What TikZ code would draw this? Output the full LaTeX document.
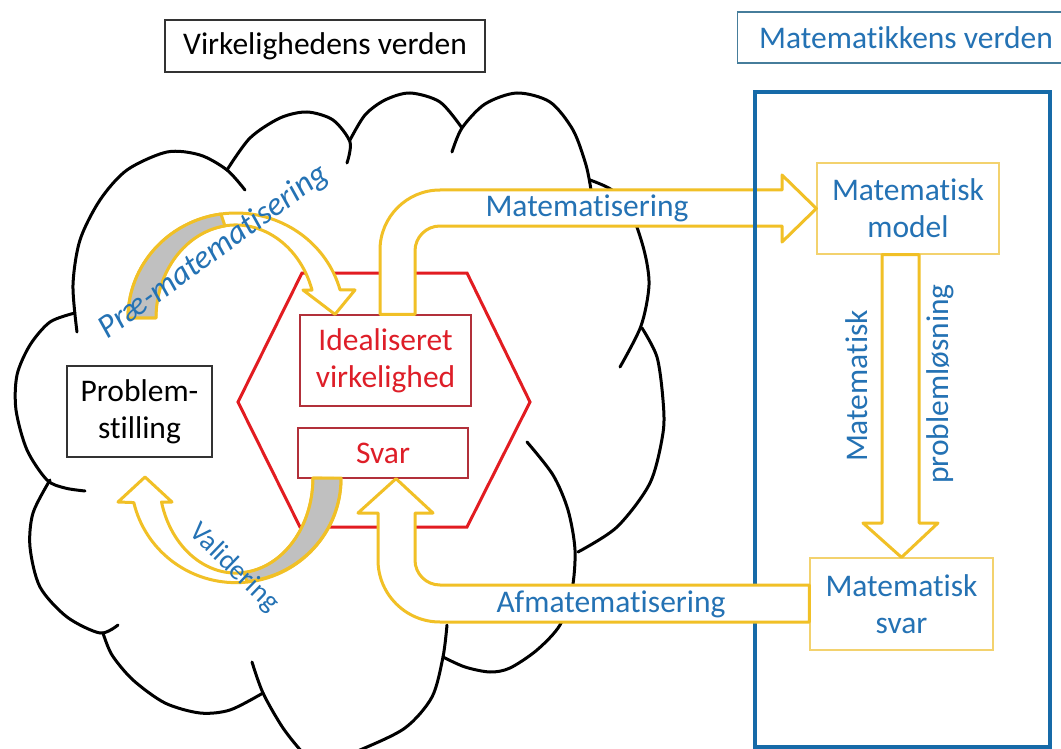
\documentclass[tikz,border=0pt]{standalone}
\usepackage{fontspec}
\setmainfont{Carlito}[RawFeature={-liga;-clig;-calt;-dlig}]
\usetikzlibrary{calc}
\definecolor{arrowgold}{RGB}{241,192,38}
\definecolor{boxgold}{RGB}{243,210,110}
\definecolor{textblue}{RGB}{36,114,180}
\definecolor{frameblue}{RGB}{22,106,168}
\definecolor{titleblue}{RGB}{70,125,155}
\definecolor{hexred}{RGB}{226,28,33}
\definecolor{boxred}{RGB}{178,48,58}
\definecolor{textred}{RGB}{222,30,40}
\definecolor{backgray}{RGB}{192,192,192}
\tikzset{
  txt/.style={font=\fontsize{31.5}{37}\selectfont},
  box/.style={txt,draw,line width=1.3pt,fill=white,align=center,inner sep=0pt},
  blockarrow/.style={draw=arrowgold,line width=3pt,fill=white,line join=round},
  backside/.style={draw=arrowgold,line width=3pt,fill=backgray,line join=round},
  bluelbl/.style={txt,text=textblue,inner sep=0pt},
  cloudline/.style={line width=3pt,line cap=round},
}
\begin{document}
\begin{tikzpicture}[x=1pt,y=-1pt]
          \clip (0,0) rectangle (1061,749);
          \fill[white] (0,0) rectangle (1061,749);
          \draw[cloudline] plot [smooth] coordinates {(77,332) (73,285) (80,240) (100,200) (127,170) (167,152) (200,155) (227,170) (245,190)};
          \draw[cloudline] plot [smooth] coordinates {(227,170) (250,138) (280,118) (307,112) (333,120) (350,142) (347,163)};
          \draw[cloudline] plot [smooth] coordinates {(350,140) (365,115) (385,100) (410,93) (440,102) (462,128)};
          \draw[cloudline] plot [smooth] coordinates {(452,152) (462,128) (485,104) (517,93) (550,102) (573,130) (586,165) (591,190)};
          \draw[cloudline] plot [smooth] coordinates {(590,180) (612,190) (630,210) (644,250) (649,285) (641,326) (620,367)};
          \draw[cloudline] plot [smooth] coordinates {(642,328) (657,357) (663,400) (663,433) (650,483) (617,527) (578,552)};
          \draw[cloudline] plot [smooth] coordinates {(527,442) (553,475) (568,510) (575,550) (572,590) (560,625) (537,650) (510,668) (490,672) (465,667) (443,657)};
          \draw[cloudline] plot [smooth] coordinates {(447,625) (443,657) (432,697) (405,728) (360,750) (320,765)};
          \draw[cloudline] plot [smooth] coordinates {(252,662) (263,693) (283,728) (305,755) (320,765)};
          \draw[cloudline] plot [smooth] coordinates {(263,693) (230,710) (200,713) (165,703) (133,680) (112,655) (103,633)};
          \draw[cloudline] plot [smooth] coordinates {(118,625) (100,633) (67,617) (40,587) (30,547) (33,513) (50,480)};
          \draw[cloudline] plot [smooth] coordinates {(75,313) (50,322) (30,345) (17,375) (16,410) (27,450) (47,480) (65,488) (85,491)};
          \draw[hexred,line width=3pt] (302,273) -- (467,273) -- (530,402) -- (467,527) -- (300,527) -- (238,402) -- cycle;
          \node[box,draw=black!80,minimum width=320,minimum height=52] (virk) at (325,46) {Virkelighedens verden};
          \node[box,draw=titleblue,text=textblue,minimum width=337,minimum height=51] (matv) at (906,37.5) {Matematikkens verden};
          \node[box,draw=black!80,minimum width=145,minimum height=91] (prob) at (139.5,411.5) {Problem-\\stilling};
          \node[box,draw=boxred,text=textred,minimum width=171,minimum height=91] (ideal) at (385.5,360.5) {Idealiseret\\virkelighed};
          \node[box,draw=boxred,text=textred,minimum width=170,minimum height=50] (svar) at (383,453) {Svar};
          \node[box,draw=boxgold,text=textblue,minimum width=182,minimum height=91] (model) at (908,208.5) {Matematisk\\model};
          \node[box,draw=boxgold,text=textblue,minimum width=183,minimum height=92] (msvar) at (901.5,604) {Matematisk\\svar};
          \draw[blockarrow] (128,318) arc[start angle=180,end angle=344.5,x radius=108,y radius=105] -- (355,290) -- (335,0 |- ideal.north) -- (303,290) -- (312,290) arc[start angle=342.5,end angle=180,x radius=80,y radius=93] -- cycle;
          \draw[backside] (128,318) arc[start angle=180,end angle=262,x radius=108,y radius=105] -- (224.9,225.9) arc[start angle=262,end angle=180,x radius=80,y radius=93] -- cycle;
          \draw[blockarrow] (341,0 |- svar.south) arc[start angle=0,end angle=166.7,x radius=105,y radius=104] -- (118,502) -- (145,477) -- (172,502) -- (161.5,502) arc[start angle=165.4,end angle=0,x radius=77,y radius=95] -- cycle;
          \draw[backside] (341,478) arc[start angle=0,end angle=84,x radius=105,y radius=104] -- (244,572.5) arc[start angle=84,end angle=0,x radius=77,y radius=95] -- cycle;
          \draw[blockarrow] (380,0 |- ideal.north) -- (380,250) arc[start angle=180,end angle=270,radius=60] -- (782,190) -- (782,175) -- (model.west) -- (782,242) -- (782,226) -- (440,226) arc[start angle=270,end angle=180,radius=25] -- (415,0 |- ideal.north) -- cycle;
          \draw[frameblue,line width=3.5pt] (755,92) rectangle (1050,747);
          \draw[blockarrow] (msvar.west |- 0,585) -- (440,585) arc[start angle=90,end angle=180,radius=25] -- (415,513) -- (433,513) -- (396,0 |- svar.south) -- (358,513) -- (378,513) -- (378,560) arc[start angle=180,end angle=90,radius=62] -- (msvar.west |- 0,622) -- cycle;
          \draw[blockarrow] (882,0 |- model.south) -- (882,523) -- (863,523) -- (msvar.north) -- (938,523) -- (919,523) -- (919,0 |- model.south) -- cycle;
          \node[bluelbl] (lmat) at (587,208) {Matematisering};
          \node[bluelbl] (lafm) at (611,604) {Afmatematisering};
          \node[bluelbl,rotate=36,font=\fontsize{33}{38}\selectfont\itshape] (lprae) at (214,252) {Præ-matematisering};
          \node[bluelbl,rotate=-44,font=\fontsize{28}{32}\selectfont] (lval) at (234,568) {Validering};
          \node[bluelbl,rotate=90] (lmp1) at (857,386) {Matematisk};
          \node[bluelbl,rotate=90] (lmp2) at (940,384) {problemløsning};
        \end{tikzpicture}
\end{document}
